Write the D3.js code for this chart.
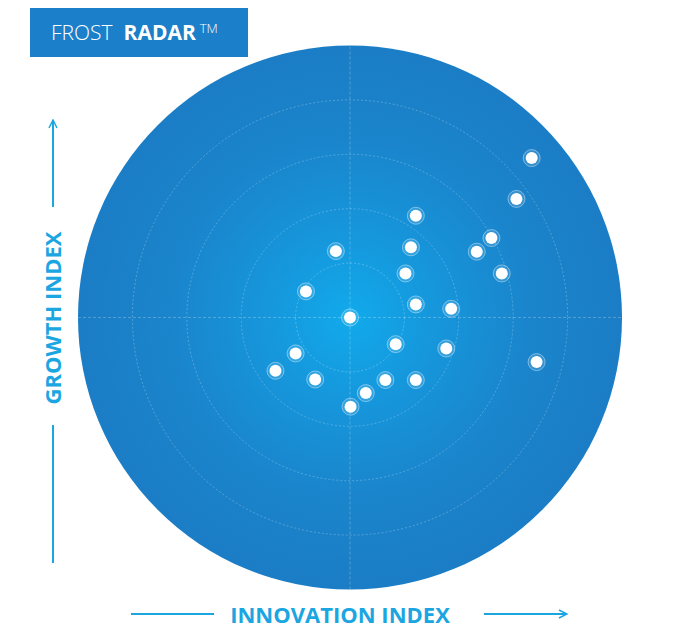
<!DOCTYPE html>
<html>
<head>
<meta charset="utf-8">
<script src="https://cdn.jsdelivr.net/npm/d3@7"></script>
<style>
  html, body { margin: 0; padding: 0; background: #fff; }
  svg { display: block; }
</style>
</head>
<body>
<svg id="chart" width="680" height="639"></svg>
<script>
// Company positions on the radar (innovation index, growth index), centre = 0
const innovation = [3.34, 3.06, 1.21, 2.60, 2.33, 1.12, -0.26, 2.79, 1.02, -0.81, 1.21, 1.86,
  0.00, 0.84, 1.77, -1.00, 3.43, -1.37, -0.64, 0.65, 1.21, 0.29, 0.01];
const growth = [2.93, 2.18, 1.87, 1.46, 1.21, 1.29, 1.22, 0.81, 0.81, 0.48, 0.24, 0.16,
  0.00, -0.49, -0.57, -0.66, -0.82, -0.98, -1.14, -1.15, -1.15, -1.39, -1.64];
const rings = [1, 2, 3, 4, 5];
const xLabel = 'INNOVATION INDEX';
const yLabel = 'GROWTH INDEX';

const svg = d3.select('#chart');
const cx = 350, cy = 317.5, R = 272;

const x = d3.scaleLinear().domain([-5, 5]).range([cx - R, cx + R]);
const y = d3.scaleLinear().domain([-5, 5]).range([cy + R, cy - R]);
const rad = d3.scaleLinear().domain([0, 5]).range([0, R]);

const defs = svg.append('defs');
const grad = defs.append('radialGradient')
  .attr('id', 'bg')
  .attr('cx', cx).attr('cy', cy).attr('r', R)
  .attr('gradientUnits', 'userSpaceOnUse');
grad.append('stop').attr('offset', '0%').attr('stop-color', '#11aaeb');
grad.append('stop').attr('offset', '30%').attr('stop-color', '#1697dc');
grad.append('stop').attr('offset', '65%').attr('stop-color', '#1a85cc');
grad.append('stop').attr('offset', '100%').attr('stop-color', '#1b7dc5');

// Disc
svg.append('circle')
  .attr('cx', cx).attr('cy', cy).attr('r', R)
  .attr('fill', 'url(#bg)');

// Rings
svg.append('g')
  .selectAll('circle')
  .data(rings.slice(0, -1))
  .join('circle')
  .attr('cx', cx).attr('cy', cy)
  .attr('r', (d) => rad(d))
  .attr('fill', 'none')
  .attr('stroke', 'rgba(255,255,255,0.3)')
  .attr('stroke-width', 0.8)
  .attr('stroke-dasharray', '2,2');

// Cross lines
const grid = svg.append('g')
  .attr('stroke', 'rgba(255,255,255,0.3)')
  .attr('stroke-width', 0.8)
  .attr('stroke-dasharray', '3,2');
grid.append('line')
  .attr('x1', x(-5)).attr('x2', x(5))
  .attr('y1', y(0)).attr('y2', y(0));
grid.append('line')
  .attr('x1', x(0)).attr('x2', x(0))
  .attr('y1', y(-5)).attr('y2', y(5));

// Points
const pts = innovation.map((v, i) => ({ x: v, y: growth[i] }));
const dot = svg.append('g')
  .selectAll('g')
  .data(pts)
  .join('g')
  .attr('transform', (d) => `translate(${x(d.x)},${y(d.y)})`);
dot.append('circle')
  .attr('r', 8.5)
  .attr('fill', 'rgba(255,255,255,0.12)')
  .attr('stroke', 'rgba(255,255,255,0.4)')
  .attr('stroke-width', 1);
dot.append('circle')
  .attr('r', 6)
  .attr('fill', '#ffffff');

// Title box
svg.append('rect')
  .attr('x', 30).attr('y', 8)
  .attr('width', 218).attr('height', 49)
  .attr('fill', '#1b80c9');
const title = svg.append('text')
  .attr('x', 51).attr('y', 40)
  .attr('fill', '#fff')
  .attr('font-family', 'Open Sans, sans-serif')
  .attr('font-size', 21);
title.append('tspan').attr('font-weight', 300).text('FROST');
title.append('tspan').attr('dx', 11).attr('font-weight', 700).text('RADAR');
title.append('tspan').attr('dx', 4).attr('dy', -7).attr('font-size', 13).attr('font-weight', 300).text('TM');

// Axis labels and arrows
const accent = '#1ba6e2';
defs.append('marker')
  .attr('id', 'arrow')
  .attr('viewBox', '0 0 10 10')
  .attr('refX', 9).attr('refY', 5)
  .attr('markerWidth', 10).attr('markerHeight', 10)
  .attr('markerUnits', 'userSpaceOnUse')
  .attr('orient', 'auto')
  .append('path')
  .attr('d', 'M1,1 L9,5 L1,9')
  .attr('fill', 'none')
  .attr('stroke', accent)
  .attr('stroke-width', 1.5);

const axes = svg.append('g').attr('stroke', accent).attr('stroke-width', 2);
axes.append('line').attr('x1', 131).attr('x2', 214).attr('y1', 614).attr('y2', 614);
axes.append('line').attr('x1', 484).attr('x2', 567).attr('y1', 614).attr('y2', 614)
  .attr('marker-end', 'url(#arrow)');
axes.append('line').attr('x1', 53).attr('x2', 53).attr('y1', 563).attr('y2', 425);
axes.append('line').attr('x1', 53).attr('x2', 53).attr('y1', 207).attr('y2', 120)
  .attr('marker-end', 'url(#arrow)');

svg.append('text')
  .attr('x', 340).attr('y', 623)
  .attr('text-anchor', 'middle')
  .attr('fill', accent)
  .attr('font-family', 'Open Sans, sans-serif')
  .attr('font-weight', 700)
  .attr('font-size', 22)
  .text(xLabel);

svg.append('text')
  .attr('transform', 'translate(61,318) rotate(-90)')
  .attr('text-anchor', 'middle')
  .attr('fill', accent)
  .attr('font-family', 'Open Sans, sans-serif')
  .attr('font-weight', 700)
  .attr('font-size', 22)
  .text(yLabel);
</script>
</body>
</html>
